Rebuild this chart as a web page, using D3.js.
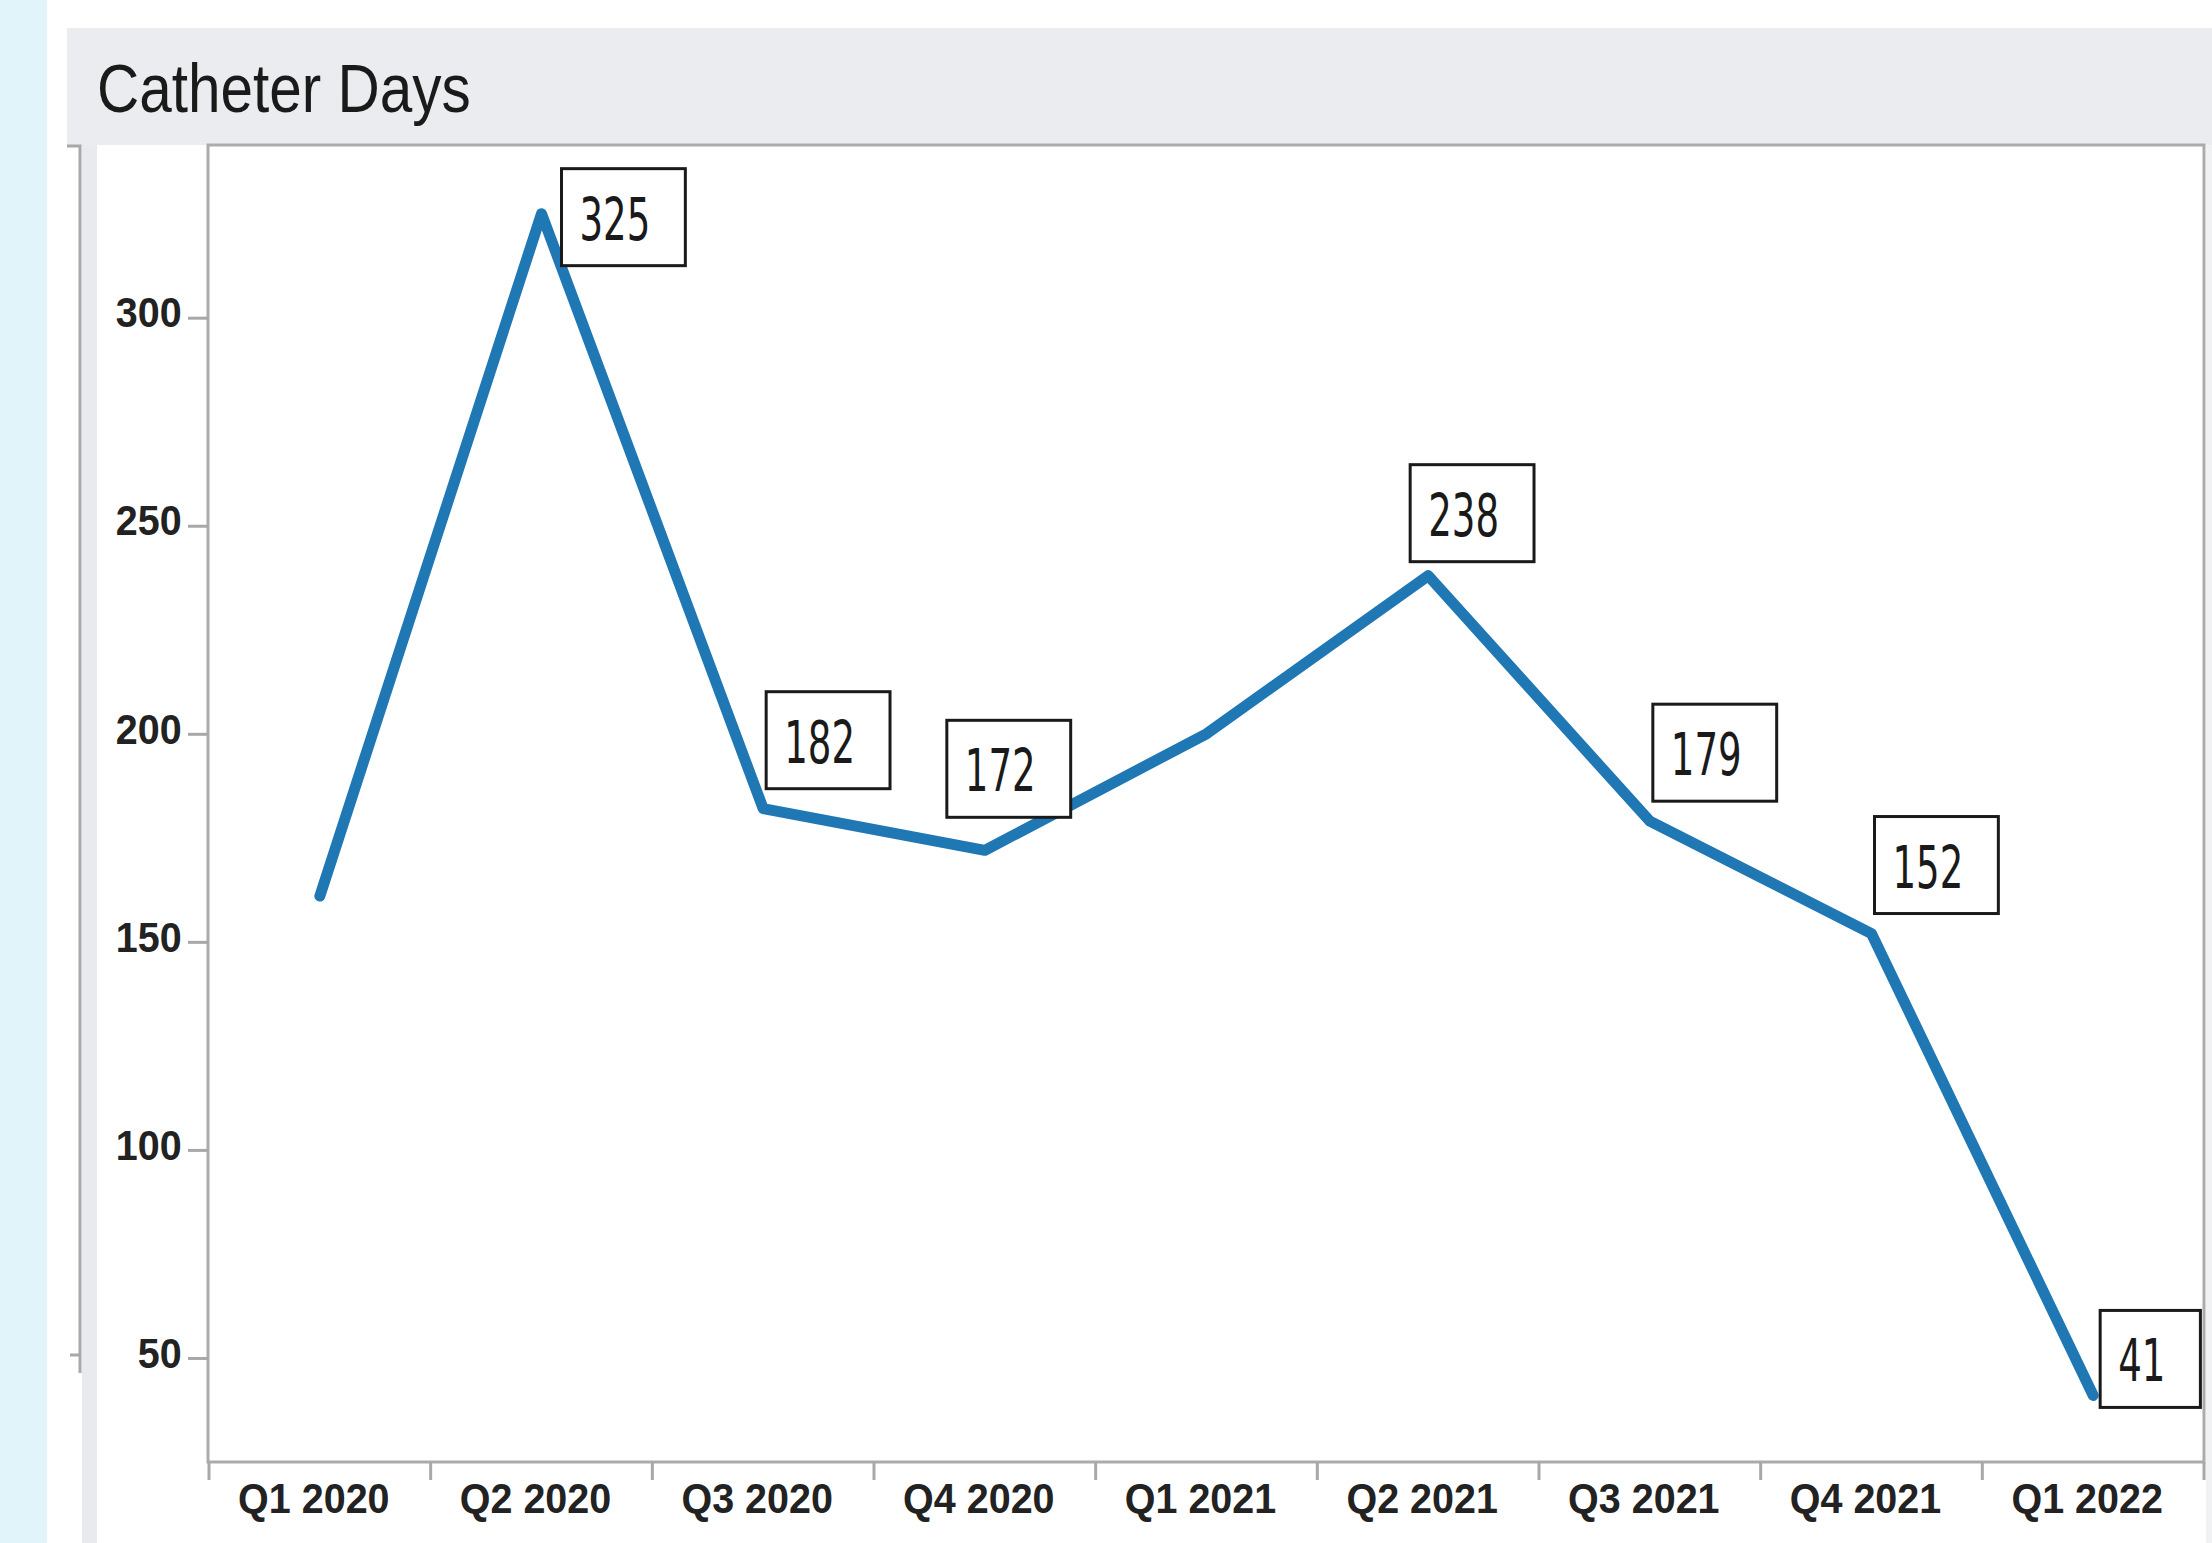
<!DOCTYPE html>
<html>
<head>
<meta charset="utf-8">
<script src="https://cdn.jsdelivr.net/npm/d3@7"></script>
<style>
  body { margin: 0; background: #fff; }
  svg { display: block; }
</style>
</head>
<body>
<div id="chart"></div>
<script>
const quarters = ["Q1 2020", "Q2 2020", "Q3 2020", "Q4 2020", "Q1 2021", "Q2 2021", "Q3 2021", "Q4 2021", "Q1 2022"];
const catheterDays = [161, 325, 182, 172, 200, 238, 179, 152, 41];
// which points carry a boxed value label, and where the box sits
const labelPlacement = [null, "right", "above", "aboveLeft", null, "aboveTight", "above", "above", "rightUp"];
const yTicks = [50, 100, 150, 200, 250, 300];

const W = 2212, H = 1543;
const plot = { left: 209, right: 2204, top: 145, bottom: 1462 };

const svg = d3.select("#chart").append("svg")
    .attr("width", W)
    .attr("height", H);

// page background pieces
svg.append("rect").attr("x", 0).attr("y", 0).attr("width", 47).attr("height", H).attr("fill", "#e1f4f9");
svg.append("rect").attr("x", 67).attr("y", 28).attr("width", W - 67).attr("height", plot.top - 28).attr("fill", "#ebecf0");
svg.append("rect").attr("x", 82).attr("y", plot.top).attr("width", 15).attr("height", H - plot.top).attr("fill", "#e9eaee");
svg.append("rect").attr("x", plot.right + 2).attr("y", plot.top).attr("width", W - plot.right - 2).attr("height", H - plot.top).attr("fill", "#f1f2f4");
svg.append("path")
    .attr("d", `M67,${plot.top + 1}H80V1373M70,1355H80`)
    .attr("fill", "none")
    .attr("stroke", "#a8a8a8")
    .attr("stroke-width", 3);

svg.append("text")
    .attr("transform", "translate(97,112) scale(0.86,1)")
    .attr("font-family", "Liberation Sans, Arial, sans-serif")
    .attr("font-size", 68)
    .attr("fill", "#1a1a1a")
    .text("Catheter Days");

const x = d3.scaleBand().domain(quarters).range([plot.left, plot.right]);
const y = d3.scaleLinear().domain([25, 341.5]).range([plot.bottom, plot.top]);

// frame
svg.append("rect")
    .attr("x", plot.left - 1).attr("y", plot.top)
    .attr("width", plot.right - plot.left + 1).attr("height", plot.bottom - plot.top)
    .attr("fill", "#fff")
    .attr("stroke", "#ababab")
    .attr("stroke-width", 3);

// y axis
const yAxis = svg.append("g")
    .attr("transform", `translate(${plot.left - 1},0)`)
    .call(d3.axisLeft(y).tickValues(yTicks).tickSize(20).tickPadding(8));
yAxis.select(".domain").remove();
yAxis.selectAll(".tick line").attr("stroke", "#a8a8a8").attr("stroke-width", 3);
yAxis.selectAll(".tick text")
    .attr("font-family", "Liberation Sans, Arial, sans-serif")
    .attr("font-weight", "bold")
    .attr("font-size", 42)
    .attr("fill", "#222")
    .attr("dy", "0.22em")
    .attr("transform", "scale(0.94,1)");

// x axis: labels at band centres, ticks at band edges
const xAxis = svg.append("g")
    .attr("transform", `translate(0,${plot.bottom})`)
    .call(d3.axisBottom(x).tickSize(0).tickPadding(21));
xAxis.select(".domain").remove();
xAxis.selectAll(".tick text")
    .attr("font-family", "Liberation Sans, Arial, sans-serif")
    .attr("font-weight", "bold")
    .attr("font-size", 42)
    .attr("fill", "#222")
    .attr("transform", "translate(-6,0) scale(0.94,1)");

const edges = quarters.map(q => x(q)).concat([x.range()[1]]);
svg.append("g").selectAll("line")
    .data(edges)
    .enter().append("line")
    .attr("x1", d => d).attr("x2", d => d)
    .attr("y1", plot.bottom).attr("y2", plot.bottom + 18)
    .attr("stroke", "#a8a8a8")
    .attr("stroke-width", 3);

// line
const pts = quarters.map((q, i) => ({ q, v: catheterDays[i], place: labelPlacement[i] }));
const cx = d => x(d.q) + x.bandwidth() / 2;

svg.append("path")
    .datum(pts)
    .attr("fill", "none")
    .attr("stroke", "#1f77b4")
    .attr("stroke-width", 11)
    .attr("stroke-linejoin", "round")
    .attr("stroke-linecap", "round")
    .attr("d", d3.line().x(cx).y(d => y(d.v)));

// boxed value labels
const boxH = 97, sx = 0.64;
const offsets = {
    right:      { dx: 20,  top: -45 },
    rightUp:    { dx: 7,   top: -85 },
    above:      { dx: 3,   top: -20 - boxH },
    aboveTight: { dx: -18, top: -14 - boxH },
    aboveLeft:  { dx: -38, top: -33 - boxH }
};

pts.filter(d => d.place).forEach(d => {
    const o = offsets[d.place];
    const g = svg.append("g")
        .attr("transform", `translate(${cx(d) + o.dx},${y(d.v) + o.top})`);
    const rect = g.append("rect")
        .attr("height", boxH)
        .attr("fill", "#fff")
        .attr("stroke", "#1a1a1a")
        .attr("stroke-width", 3);
    const t = g.append("text")
        .attr("transform", `translate(18,71) scale(${sx},1)`)
        .attr("font-family", "DejaVu Sans, sans-serif")
        .attr("font-size", 58)
        .attr("fill", "#1a1a1a")
        .text(d.v);
    const w = t.node().getBBox().width * sx;
    rect.attr("width", w + 53);
});
</script>
</body>
</html>
